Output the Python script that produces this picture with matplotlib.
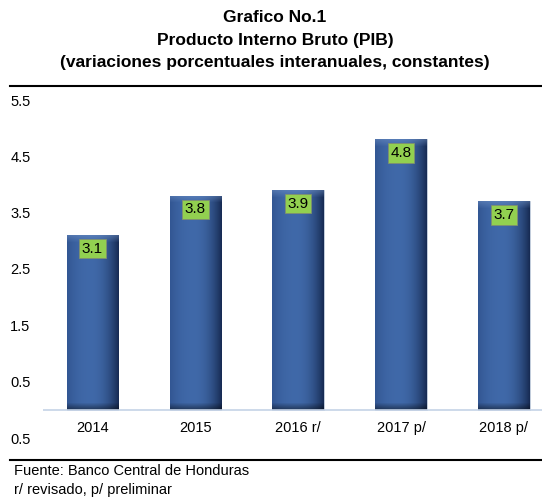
import numpy as np
import matplotlib
matplotlib.use("Agg")
import matplotlib.pyplot as plt
from matplotlib.lines import Line2D

# Data
years = ["2014", "2015", "2016 r/", "2017 p/", "2018 p/"]
pib = [3.1, 3.8, 3.9, 4.8, 3.7]
yticks = [-0.5, 0.5, 1.5, 2.5, 3.5, 4.5, 5.5]
ytick_labels = ["0.5", "0.5", "1.5", "2.5", "3.5", "4.5", "5.5"]

title_lines = ["Grafico No.1",
               "Producto Interno Bruto (PIB)",
               "(variaciones porcentuales interanuales, constantes)"]
notes = ["Fuente: Banco Central de Honduras", "r/ revisado, p/ preliminar"]

plt.rcParams["font.family"] = ["Liberation Sans", "DejaVu Sans"]

W, H = 542, 499
fig = plt.figure(figsize=(W / 100, H / 100), dpi=100)
ax = fig.add_axes([43 / W, (H - 438) / H, 1 - 43 / W, 338 / H])

x = np.arange(len(years))
bars = ax.bar(x, pib, width=0.5, color="#35609c", edgecolor="#c9d2de",
              linewidth=0.6, zorder=2)

# cylinder-like shading, dark at the sides, lighter band at the top
left = np.array([0.17, 0.30, 0.53])
mid = np.array([0.25, 0.41, 0.66])
right = np.array([0.09, 0.17, 0.33])
u = np.linspace(0, 1, 60)
for b, v in zip(bars, pib):
    w = np.clip(np.abs(u - 0.45) / 0.55, 0, 1) ** 2.2
    row = np.where(u[:, None] < 0.45, mid + (left - mid) * w[:, None],
                   mid + (right - mid) * w[:, None])
    n = max(int(v * 56.5), 10)
    img = np.repeat(row[None, :, :], n, axis=0)
    k = np.arange(n)
    top = np.clip(1 - k / 7, 0, 1)[:, None, None]
    bot = np.clip(1 - (n - 1 - k) / 7, 0, 1)[:, None, None]
    img = img * (1 - 0.45 * bot) + (np.array([0.45, 0.58, 0.78]) - img) * 0.45 * top
    x0 = b.get_x()
    im = ax.imshow(np.clip(img, 0, 1), extent=(x0, x0 + b.get_width(), 0, v),
                   aspect="auto", origin="upper", zorder=2.5)
    im.set_clip_path(b)
    ax.text(b.get_x() + b.get_width() / 2, v - 0.24, f"{v:.1f}",
            ha="center", va="center", fontsize=11, color="black", zorder=4,
            bbox=dict(boxstyle="square,pad=0.18", facecolor="#92d050",
                      edgecolor="#7f8f70", linewidth=0.6))

ax.axhline(0, color="#c5d3e6", linewidth=1.2, zorder=3)
ax.set_xlim(-0.48, 4.37)
ax.set_ylim(-0.5, 5.5)
ax.set_xticks(x)
ax.set_xticklabels(years, fontsize=10.5)
ax.set_yticks(yticks)
ax.set_yticklabels(ytick_labels, fontsize=10.5)
ax.tick_params(axis="x", length=0, pad=-12)
ax.tick_params(axis="y", length=0, pad=9)
for s in ax.spines.values():
    s.set_visible(False)

for i, (t, y) in enumerate(zip(title_lines, [18, 41, 63])):
    fig.text(275 / W, 1 - y / H, t, ha="center", va="center",
             fontsize=12.5, fontweight="bold")

fig.add_artist(Line2D([10 / W, 1], [1 - 86 / H] * 2, color="black", lw=1.5))
fig.add_artist(Line2D([10 / W, 1], [1 - 460 / H] * 2, color="black", lw=1.5))
fig.text(14 / W, 1 - 471 / H, notes[0], ha="left", va="center", fontsize=10.5)
fig.text(14 / W, 1 - 490 / H, notes[1], ha="left", va="center", fontsize=10.5)

fig.savefig("out.png", dpi=100)
